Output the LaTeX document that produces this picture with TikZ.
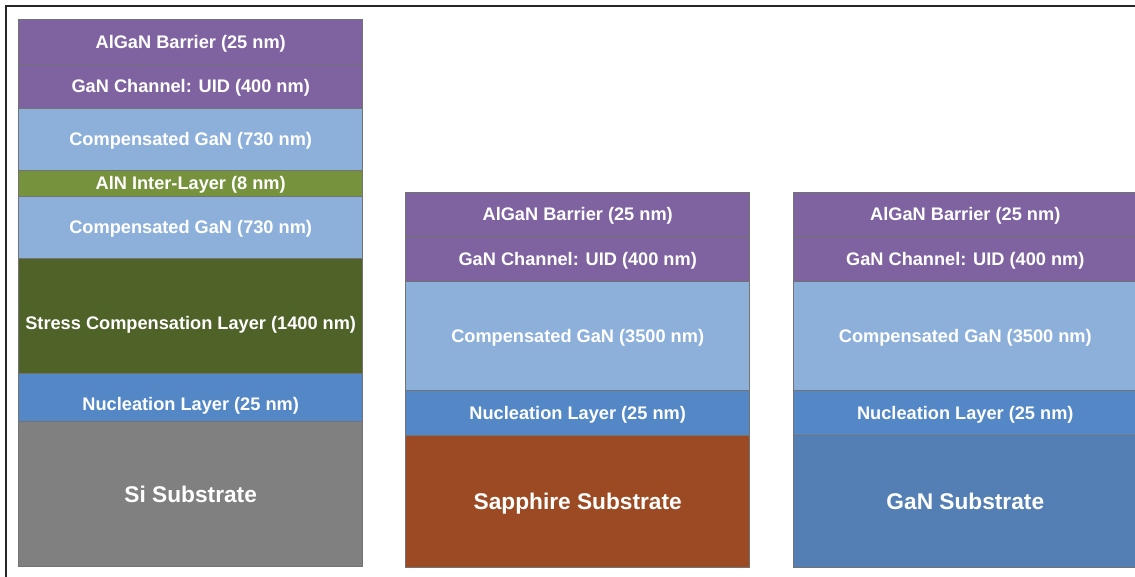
\documentclass[tikz,border=0pt]{standalone}
\usepackage{fontspec}
\setmainfont{Liberation Sans}
\definecolor{cpurple}{RGB}{126,99,160}
\definecolor{clblue}{RGB}{141,176,219}
\definecolor{caln}{RGB}{118,146,60}
\definecolor{cstress}{RGB}{79,98,40}
\definecolor{cnuc}{RGB}{83,135,198}
\definecolor{csi}{RGB}{128,128,128}
\definecolor{csapph}{RGB}{156,74,35}
\definecolor{cgansub}{RGB}{83,127,180}
\begin{document}
\begin{tikzpicture}[x=1pt,y=1pt,
  layer/.style={draw=black!55, line width=0.6pt, anchor=north west,
    minimum width=344pt, inner sep=0pt, outer sep=0pt, text=white,
    font=\fontsize{18.2}{20}\selectfont\bfseries, text height=13pt, text depth=0pt},
  sub/.style={layer, font=\fontsize{22.7}{26}\selectfont\bfseries, text height=16.3pt}]
\useasboundingbox (0,0) rectangle (1135,-577);
\clip (0,0) rectangle (1135,-577);
\draw[line width=1.1pt, draw=black!85] (6,-6) rectangle (1200,-620);
% left stack (Si)
\node[layer, fill=cpurple, minimum height=44.8pt] (l1) at (18.7,-19.5) {AlGaN Barrier (25 nm)};
\node[layer, fill=cpurple, minimum height=44.4pt] (l2) at (18.7,-64.3) {GaN Channel: UID (400 nm)};
\node[layer, fill=clblue, minimum height=61.3pt] (l3) at (18.7,-108.7) {Compensated GaN (730 nm)};
\node[layer, fill=caln, minimum height=26.7pt] (l4) at (18.7,-170) {AlN Inter-Layer (8 nm)};
\node[layer, fill=clblue, minimum height=61.6pt] (l5) at (18.7,-196.7) {Compensated GaN (730 nm)};
\node[layer, fill=cstress, minimum height=115pt, text height=28.4pt] (l6) at (18.7,-258.3) {Stress Compensation Layer (1400 nm)};
\node[layer, fill=cnuc, minimum height=47.7pt, text height=26pt] (l7) at (18.7,-373.3) {Nucleation Layer (25 nm)};
\node[sub, fill=csi, minimum height=145.7pt] (l8) at (18.7,-421) {Si Substrate};
% middle stack (Sapphire)
\node[layer, fill=cpurple, minimum height=44.4pt] (m1) at (405.7,-192.3) {AlGaN Barrier (25 nm)};
\node[layer, fill=cpurple, minimum height=44.3pt] (m2) at (405.7,-236.7) {GaN Channel: UID (400 nm)};
\node[layer, fill=clblue, minimum height=109.7pt] (m3) at (405.7,-281) {Compensated GaN (3500 nm)};
\node[layer, fill=cnuc, minimum height=44.3pt] (m4) at (405.7,-390.7) {Nucleation Layer (25 nm)};
\node[sub, fill=csapph, minimum height=132pt] (m5) at (405.7,-435) {Sapphire Substrate};
% right stack (GaN)
\node[layer, fill=cpurple, minimum height=44.4pt] (r1) at (793.3,-192.3) {AlGaN Barrier (25 nm)};
\node[layer, fill=cpurple, minimum height=44.3pt] (r2) at (793.3,-236.7) {GaN Channel: UID (400 nm)};
\node[layer, fill=clblue, minimum height=109.7pt] (r3) at (793.3,-281) {Compensated GaN (3500 nm)};
\node[layer, fill=cnuc, minimum height=44.3pt] (r4) at (793.3,-390.7) {Nucleation Layer (25 nm)};
\node[sub, fill=cgansub, minimum height=132pt] (r5) at (793.3,-435) {GaN Substrate};
\end{tikzpicture}
\end{document}
